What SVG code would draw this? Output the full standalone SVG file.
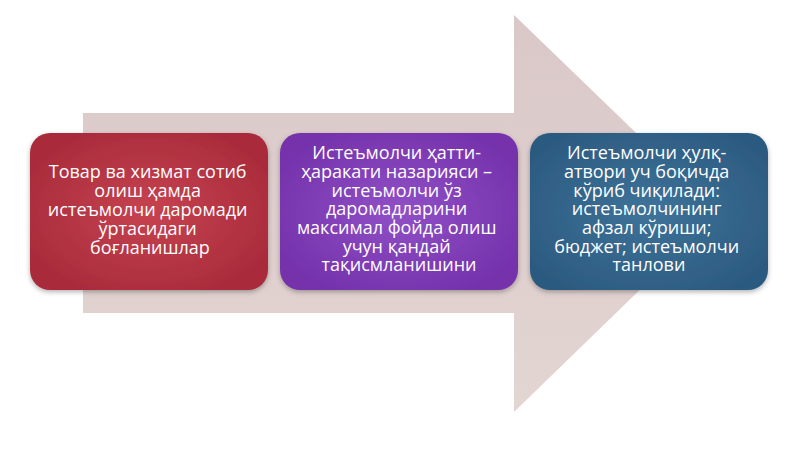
<svg xmlns="http://www.w3.org/2000/svg" width="800" height="449" viewBox="0 0 800 449">
  <defs>
    <linearGradient id="arrowGrad" x1="0" y1="0" x2="0" y2="1">
      <stop offset="0" stop-color="#dac8c8"/>
      <stop offset="1" stop-color="#e2d5d2"/>
    </linearGradient>
    <radialGradient id="redGrad" cx="0.5" cy="0.5" r="0.6">
      <stop offset="0" stop-color="#c64350"/>
      <stop offset="1" stop-color="#a82a3a"/>
    </radialGradient>
    <radialGradient id="purpleGrad" cx="0.5" cy="0.5" r="0.6">
      <stop offset="0" stop-color="#9050c6"/>
      <stop offset="1" stop-color="#7431aa"/>
    </radialGradient>
    <radialGradient id="blueGrad" cx="0.5" cy="0.5" r="0.6">
      <stop offset="0" stop-color="#3e7399"/>
      <stop offset="1" stop-color="#2c5a80"/>
    </radialGradient>
    <filter id="shadow" x="-10%" y="-10%" width="120%" height="125%">
      <feDropShadow dx="0" dy="2" stdDeviation="2.5" flood-color="#000" flood-opacity="0.3"/>
    </filter>
  </defs>
  <style>
    .box { filter: url(#shadow); }
    .lbl { font-family: "Open Sans", "Noto Sans", "DejaVu Sans", sans-serif; font-size: 18px; fill: #ffffff; text-anchor: middle; }
  </style>
  <rect width="800" height="449" fill="#ffffff"/>
  <g id="arrow">
    <path d="M83,113 L514,113 L514,15 L719,213 L514,412 L514,313 L83,313 Z" fill="url(#arrowGrad)"/>
  </g>
  <g id="node1">
    <rect class="box" x="30" y="133" width="238" height="157" rx="20" ry="20" fill="url(#redGrad)"/>
    <text class="lbl">
      <tspan x="150" y="178">Товар ва хизмат сотиб</tspan>
      <tspan x="150" y="197">олиш ҳамда</tspan>
      <tspan x="150" y="216">истеъмолчи даромади</tspan>
      <tspan x="150" y="235">ўртасидаги</tspan>
      <tspan x="150" y="254">боғланишлар</tspan>
    </text>
  </g>
  <g id="node2">
    <rect class="box" x="280" y="133" width="238" height="157" rx="20" ry="20" fill="url(#purpleGrad)"/>
    <text class="lbl">
      <tspan x="399" y="159">Истеъмолчи ҳатти-</tspan>
      <tspan x="399" y="178">ҳаракати назарияси –</tspan>
      <tspan x="399" y="196.5">истеъмолчи ўз</tspan>
      <tspan x="399" y="215">даромадларини</tspan>
      <tspan x="399" y="234">максимал фойда олиш</tspan>
      <tspan x="399" y="253">учун қандай</tspan>
      <tspan x="399" y="271">тақисмланишини</tspan>
    </text>
  </g>
  <g id="node3">
    <rect class="box" x="530" y="133" width="238" height="157" rx="20" ry="20" fill="url(#blueGrad)"/>
    <text class="lbl">
      <tspan x="649" y="159">Истеъмолчи ҳулқ-</tspan>
      <tspan x="649" y="178">атвори уч боқичда</tspan>
      <tspan x="649" y="196.5">кўриб чиқилади:</tspan>
      <tspan x="649" y="215">истеъмолчининг</tspan>
      <tspan x="649" y="234">афзал кўриши;</tspan>
      <tspan x="649" y="253">бюджет; истеъмолчи</tspan>
      <tspan x="649" y="271">танлови</tspan>
    </text>
  </g>
  <g id="connectors"></g>
</svg>
